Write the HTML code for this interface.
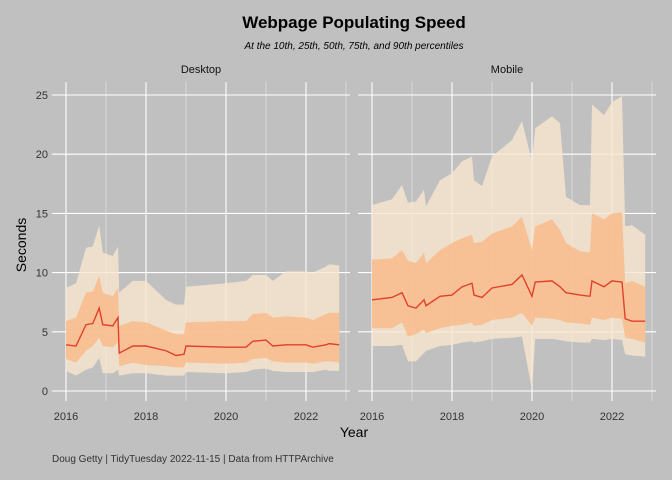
<!DOCTYPE html>
<html><head><meta charset="utf-8"><style>
body{margin:0;background:#c0c0c0;}
svg{display:block;font-family:"Liberation Sans",sans-serif;}
</style></head><body>
<svg id="c" width="672" height="480">
<rect width="672" height="480" fill="#c0c0c0"/>
<text x="354" y="28" text-anchor="middle" font-size="17" font-weight="bold" fill="#000">Webpage Populating Speed</text>
<text x="354" y="49" text-anchor="middle" font-size="10" font-style="italic" fill="#000">At the 10th, 25th, 50th, 75th, and 90th percentiles</text>
<text x="354" y="437" text-anchor="middle" font-size="14" fill="#000">Year</text>
<text transform="translate(26,245) rotate(-90)" text-anchor="middle" font-size="14" fill="#000">Seconds</text>
<text x="52" y="462" font-size="10" fill="#333">Doug Getty | TidyTuesday 2022-11-15 | Data from HTTPArchive</text>
<g id="plots"></g>
</svg>
<script>
const dYears=[2016.0,2016.25,2016.5,2016.67,2016.83,2016.92,2017.17,2017.3,2017.33,2017.67,2018.0,2018.5,2018.75,2018.95,2019.0,2020.0,2020.5,2020.67,2021.0,2021.17,2021.5,2022.0,2022.17,2022.5,2022.58,2022.83];
const dP90=[8.7,9.1,12.1,12.2,14.0,11.7,11.4,12.2,8.3,9.3,9.3,7.7,7.3,7.3,8.8,9.1,9.3,9.8,9.8,9.3,10.1,10.1,10.0,10.5,10.7,10.6];
const dP75=[5.9,6.2,8.3,8.4,9.7,8.3,8.0,8.7,5.5,5.9,5.8,5.1,4.8,4.8,5.8,5.9,5.9,6.5,6.6,6.2,6.3,6.2,6.0,6.5,6.6,6.6];
const dP50=[3.9,3.8,5.6,5.7,7.0,5.6,5.5,6.2,3.2,3.8,3.8,3.4,3.0,3.1,3.8,3.7,3.7,4.2,4.3,3.8,3.9,3.9,3.7,3.9,4.0,3.9];
const dP25=[2.7,2.4,3.4,3.8,4.5,3.8,3.7,4.1,2.1,2.4,2.2,2.1,2.0,2.0,2.4,2.3,2.4,2.7,2.8,2.5,2.4,2.4,2.3,2.5,2.5,2.4];
const dP10=[1.7,1.3,1.8,2.0,2.8,1.5,1.5,1.8,1.3,1.5,1.5,1.3,1.3,1.3,1.6,1.5,1.6,1.8,1.9,1.7,1.6,1.6,1.6,1.8,1.7,1.7];
const mYears=[2016.0,2016.5,2016.75,2016.9,2017.1,2017.3,2017.35,2017.7,2018.0,2018.25,2018.5,2018.55,2018.75,2019.0,2019.5,2019.75,2020.0,2020.08,2020.5,2020.7,2020.85,2021.2,2021.45,2021.5,2021.8,2022.0,2022.25,2022.33,2022.5,2022.83];
const mP90=[15.7,16.2,17.4,15.9,16.0,17.0,15.6,17.8,18.4,19.4,19.8,17.8,17.3,19.8,21.2,22.8,19.4,22.2,23.2,22.6,16.4,15.7,15.7,24.2,23.3,24.4,24.9,13.9,14.0,13.2];
const mP75=[11.1,11.2,11.9,11.0,10.8,11.7,10.8,11.9,12.5,12.9,13.2,12.5,12.6,13.3,13.9,14.7,11.9,13.9,14.5,13.6,12.5,11.8,11.7,15.0,14.5,15.0,15.1,9.1,9.3,8.8];
const mP50=[7.7,7.9,8.3,7.2,7.0,7.7,7.2,8.0,8.1,8.8,9.1,8.1,7.9,8.7,9.0,9.8,8.0,9.2,9.3,8.8,8.3,8.1,8.0,9.3,8.8,9.3,9.2,6.1,5.9,5.9];
const mP25=[5.3,5.3,5.8,4.6,4.8,5.2,4.9,5.3,5.5,5.6,5.8,5.5,5.6,6.0,6.2,6.6,5.5,6.2,6.1,6.0,5.8,5.7,5.6,6.2,6.0,6.2,6.1,4.5,4.4,4.1];
const mP10=[3.8,3.8,3.9,2.5,2.5,3.2,3.4,3.8,3.9,4.1,4.2,4.1,4.2,4.4,4.5,4.6,0.1,4.4,4.4,4.3,4.2,4.1,4.1,4.4,4.3,4.4,4.3,3.1,3.0,2.9];
const yTicks=[0,5,10,15,20,25];
const xTicks=[2016,2018,2020,2022];
const panelNames=["Desktop","Mobile"];

const NS="http://www.w3.org/2000/svg";
const root=document.getElementById('plots');
function mk(tag,attrs,parent){const e=document.createElementNS(NS,tag);for(const k in attrs)e.setAttribute(k,attrs[k]);parent.appendChild(e);return e;}
const yS=v=>391-v*11.84;
function drawPanel(idx,left,x2016,years,p10,p25,p50,p75,p90){
  const xS=t=>x2016+(t-2016)*40;
  const g=mk('g',{},root);
  
  
  const right=left+298;
  for(let yr=2015.5;yr<=2023.5;yr+=1){const x=xS(yr); if(x<left||x>right)continue;}
  for(let yr=2017;yr<=2023;yr+=2){const l=mk('line',{x1:xS(yr),x2:xS(yr),y1:82,y2:401,stroke:'#e4e4e4','stroke-width':0.7},g);
    }
  xTicks.forEach(t=>{const l=mk('line',{x1:xS(t),x2:xS(t),y1:82,y2:401,stroke:'#fff','stroke-width':1.1},g);
    
    const tx=mk('text',{x:xS(t),y:420,'text-anchor':'middle','font-size':11,fill:'#333'},g);tx.textContent=t;
    });
  yTicks.forEach(v=>{const l=mk('line',{x1:left,x2:right,y1:yS(v),y2:yS(v),stroke:'#fff','stroke-width':1.1},g);
    
    if(idx===0){const tx=mk('text',{x:left-4,y:yS(v)+4,'text-anchor':'end','font-size':11,fill:'#333'},g);tx.textContent=v;
      }});
  const st=mk('text',{x:(left+right)/2,y:73,'text-anchor':'middle','font-size':11,fill:'#111'},g);st.textContent=panelNames[idx];
  
  function band(lo,hi,col,name){let d='';years.forEach((t,i)=>{d+=(i?'L':'M')+xS(t)+','+yS(hi[i]);});
    for(let i=years.length-1;i>=0;i--)d+='L'+xS(years[i])+','+yS(lo[i]);
    const p=mk('path',{d:d+'Z',fill:col},g);}
  band(p10,p90,'rgba(248,230,205,0.8)','band-10-90');
  band(p25,p75,'rgba(250,185,135,0.8)','band-25-75');
  let d='';years.forEach((t,i)=>{d+=(i?'L':'M')+xS(t)+','+yS(p50[i]);});
  const ln=mk('path',{d:d,fill:'none',stroke:'#e0402a','stroke-width':1.4},g);
  
}
drawPanel(0,52,66,dYears,dP10,dP25,dP50,dP75,dP90);
drawPanel(1,358,372,mYears,mP10,mP25,mP50,mP75,mP90);
</script>
</body></html>
